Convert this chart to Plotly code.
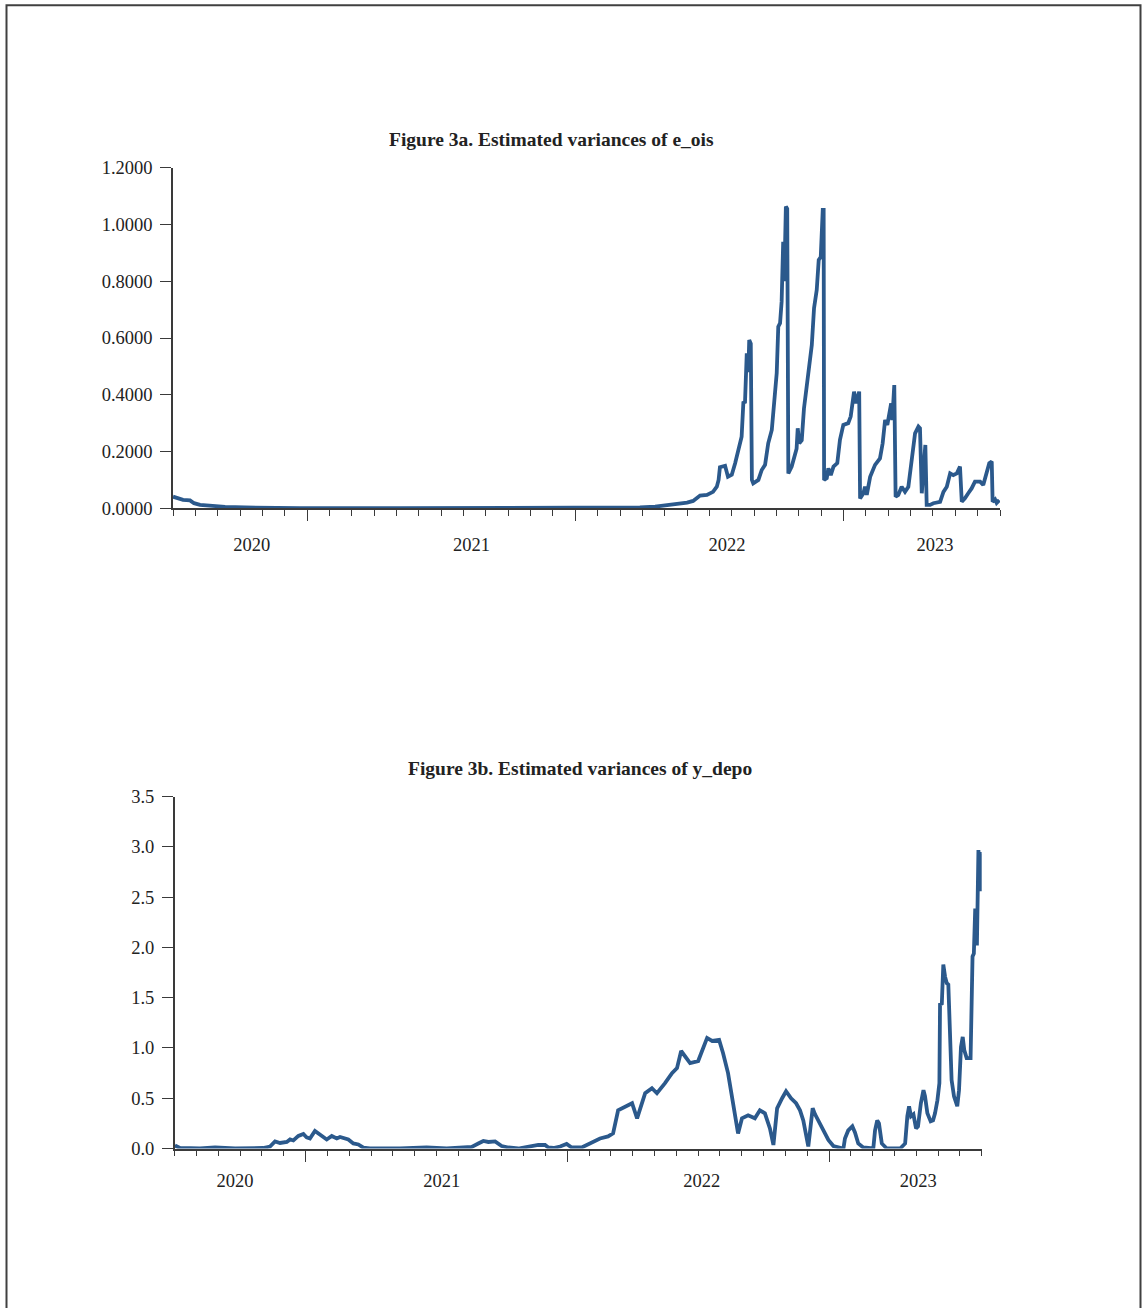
import plotly.graph_objects as go

W, H = 1142, 1308

# ---------------- data ----------------
# x = months since start of sample (axis spans 37 months, minor tick each month)
e_ois_month = [0, 0.22, 0.45, 0.76, 0.94, 1.21, 1.66, 2.33, 3.22, 4.34, 5.68, 10.16, 14.63, 17.31,
               19.10, 20.89, 21.57, 22.11, 22.69, 23.0, 23.27, 23.58, 23.89, 24.16, 24.33, 24.41,
               24.47, 24.70, 24.83, 25.0, 25.15, 25.30, 25.44, 25.52, 25.59, 25.67, 25.74, 25.78,
               25.85, 25.90, 25.96, 26.19, 26.34, 26.49, 26.63, 26.79, 26.86, 27.01, 27.08, 27.16,
               27.23, 27.30, 27.35, 27.42, 27.48, 27.53, 27.68, 27.78, 27.90, 27.95, 28.02, 28.13,
               28.23, 28.35, 28.47, 28.58, 28.68, 28.80, 28.89, 28.98, 29.07, 29.11, 29.13, 29.25,
               29.32, 29.43, 29.55, 29.72, 29.84, 29.99, 30.21, 30.32, 30.47, 30.56, 30.70, 30.74,
               30.89, 30.96, 31.04, 31.19, 31.41, 31.63, 31.75, 31.86, 31.96, 32.05, 32.13, 32.18,
               32.27, 32.33, 32.45, 32.60, 32.75, 32.90, 33.05, 33.20, 33.35, 33.42, 33.50, 33.60,
               33.66, 33.72, 33.87, 34.02, 34.32, 34.47, 34.62, 34.77, 34.91, 35.07, 35.21, 35.29,
               35.43, 35.58, 35.73, 35.88, 36.11, 36.25, 36.41, 36.52, 36.63, 36.67, 36.78, 36.85,
               36.97]
e_ois_var = [0.041, 0.035, 0.030, 0.028, 0.018, 0.012, 0.008, 0.005, 0.003, 0.001, 0.0005, 0.0005,
             0.001, 0.002, 0.001, 0.003, 0.006, 0.012, 0.016, 0.020, 0.026, 0.045, 0.047, 0.058,
             0.076, 0.100, 0.145, 0.150, 0.111, 0.118, 0.159, 0.205, 0.252, 0.376, 0.370, 0.546,
             0.480, 0.593, 0.580, 0.100, 0.088, 0.100, 0.135, 0.153, 0.229, 0.276, 0.346, 0.476,
             0.640, 0.652, 0.728, 0.939, 0.800, 1.063, 1.055, 0.123, 0.147, 0.182, 0.210, 0.282,
             0.229, 0.240, 0.352, 0.428, 0.493, 0.575, 0.705, 0.769, 0.875, 0.885, 1.051, 1.051,
             0.100, 0.106, 0.141, 0.117, 0.147, 0.159, 0.241, 0.294, 0.300, 0.323, 0.411, 0.370,
             0.411, 0.035, 0.053, 0.076, 0.047, 0.111, 0.153, 0.176, 0.229, 0.311, 0.294, 0.335,
             0.370, 0.311, 0.434, 0.041, 0.047, 0.076, 0.058, 0.076, 0.170, 0.264, 0.288, 0.282,
             0.053, 0.194, 0.223, 0.012, 0.012, 0.018, 0.023, 0.058, 0.076, 0.123, 0.117, 0.123,
             0.147, 0.023, 0.035, 0.053, 0.070, 0.094, 0.094, 0.082, 0.123, 0.159, 0.165, 0.023,
             0.031, 0.019, 0.029]

y_depo_month = [0.01, 0.24, 1.16, 1.85, 2.77, 3.45, 4.05, 4.37, 4.60, 4.83, 5.14, 5.29, 5.44, 5.67,
                5.90, 6.05, 6.20, 6.43, 6.66, 6.97, 7.20, 7.43, 7.58, 7.81, 7.96, 8.19, 8.42, 8.65,
                8.95, 10.33, 11.55, 12.47, 13.23, 13.62, 13.92, 14.15, 14.38, 14.69, 14.99, 15.30,
                15.75, 16.37, 16.67, 16.98, 17.13, 17.36, 17.67, 17.97, 18.20, 18.66, 19.04, 19.50,
                19.87, 20.10, 20.33, 20.65, 20.97, 21.20, 21.57, 21.88, 22.11, 22.48, 22.80, 23.03,
                23.22, 23.63, 24.00, 24.41, 24.64, 24.96, 25.14, 25.37, 25.60, 25.83, 26.01, 26.29,
                26.60, 26.83, 27.06, 27.29, 27.45, 27.62, 27.85, 28.03, 28.26, 28.49, 28.67, 28.82,
                29.05, 29.25, 29.36, 29.51, 29.74, 29.97, 30.20, 30.66, 30.73, 30.88, 31.07, 31.19,
                31.34, 31.57, 32.03, 32.11, 32.21, 32.29, 32.42, 32.65, 33.26, 33.49, 33.59, 33.67,
                33.76, 33.87, 33.99, 34.08, 34.21, 34.33, 34.40, 34.51, 34.66, 34.77, 34.86, 34.97,
                35.06, 35.09, 35.17, 35.24, 35.32, 35.40, 35.47, 35.55, 35.62, 35.73, 35.88, 35.96,
                36.05, 36.13, 36.20, 36.31, 36.49, 36.58, 36.64, 36.70, 36.74, 36.78, 36.80, 36.85,
                36.90, 36.92, 36.95, 36.98]
y_depo_var = [0.03, 0.005, 0.0, 0.01, 0.0, 0.005, 0.005, 0.02, 0.07, 0.055, 0.065, 0.09, 0.08, 0.125,
              0.145, 0.11, 0.10, 0.175, 0.135, 0.09, 0.125, 0.10, 0.115, 0.10, 0.09, 0.05, 0.04, 0.008,
              0.0, 0.0, 0.012, 0.0, 0.005, 0.015, 0.05, 0.075, 0.065, 0.07, 0.025, 0.01,
              0.0, 0.02, 0.035, 0.035, 0.01, 0.005, 0.02, 0.045, 0.01, 0.01, 0.05, 0.10,
              0.12, 0.15, 0.38, 0.42, 0.45, 0.30, 0.55, 0.60, 0.55, 0.65, 0.75, 0.80,
              0.97, 0.85, 0.87, 1.10, 1.07, 1.08, 0.95, 0.75, 0.45, 0.15, 0.30, 0.33,
              0.30, 0.38, 0.35, 0.20, 0.035, 0.40, 0.50, 0.57, 0.50, 0.45, 0.38, 0.28,
              0.02, 0.40, 0.34, 0.28, 0.17, 0.085, 0.025, 0.0, 0.10, 0.18, 0.22, 0.16,
              0.05, 0.01, 0.0, 0.18, 0.28, 0.25, 0.05, 0.0, 0.0, 0.05, 0.32, 0.42,
              0.32, 0.34, 0.20, 0.22, 0.45, 0.58, 0.52, 0.35, 0.27, 0.28, 0.35, 0.48,
              0.65, 1.445, 1.43, 1.83, 1.71, 1.645, 1.63, 1.18, 0.68, 0.52, 0.42, 0.58,
              1.01, 1.11, 0.98, 0.90, 0.90, 1.91, 1.94, 2.37, 2.37, 2.02, 2.40, 2.97,
              2.70, 2.95, 2.56, 2.93]

year_labels = ["2020", "2021", "2022", "2023"]
year_pos_top = [3.52, 13.36, 24.79, 34.09]
year_pos_bottom = [2.76, 12.24, 24.16, 34.09]
long_ticks = [6, 18, 30]
n_months = 37

titles = ["Figure 3a. Estimated variances of e_ois",
          "Figure 3b. Estimated variances of y_depo"]

# ---------------- styling ----------------
LINE = "#2B598C"
AX = "#3a3a3a"
TXT = "#222222"
FONT = "Liberation Serif"

def px_x(p):
    return p / W

def px_y(p):
    return 1 - p / H

fig = go.Figure()
fig.add_trace(go.Scatter(x=e_ois_month, y=e_ois_var, mode="lines",
                         line=dict(color=LINE, width=3.8), xaxis="x", yaxis="y",
                         showlegend=False, hoverinfo="skip"))
fig.add_trace(go.Scatter(x=y_depo_month, y=y_depo_var, mode="lines",
                         line=dict(color=LINE, width=3.8), xaxis="x2", yaxis="y2",
                         showlegend=False, hoverinfo="skip"))

tickfont = dict(family=FONT, size=18.5, color=TXT)

def xaxis_main(domain, anchor, labpos, standoff):
    return dict(domain=domain, anchor=anchor, range=[0, n_months],
                tickmode="array", tickvals=labpos, ticktext=year_labels,
                ticks="", showline=True, linecolor=AX, linewidth=1.5,
                showgrid=False, zeroline=False, tickfont=tickfont,
                ticklabelstandoff=standoff,
                minor=dict(tick0=0, dtick=1, ticks="outside", ticklen=6,
                           tickwidth=1.3, tickcolor=AX, showgrid=False),
                fixedrange=True)

def xaxis_long(overlay, anchor):
    return dict(overlaying=overlay, anchor=anchor, range=[0, n_months],
                tickmode="array", tickvals=long_ticks, ticks="outside", ticklen=12,
                tickwidth=1.3, tickcolor=AX, showticklabels=False, showline=False,
                showgrid=False, zeroline=False, fixedrange=True)

def yaxis(domain, anchor, rng, dtick, fmt):
    return dict(domain=domain, anchor=anchor, range=rng, tickmode="linear", tick0=0,
                dtick=dtick, tickformat=fmt, ticks="outside", ticklen=11, tickwidth=1.3,
                tickcolor=AX, showline=True, linecolor=AX, linewidth=1.5,
                showgrid=False, zeroline=False, tickfont=tickfont,
                ticklabelstandoff=4, fixedrange=True)

top_x = [px_x(173), px_x(1000)]
top_y = [px_y(508.3), px_y(167.7)]
bot_x = [px_x(174.7), px_x(981.7)]
bot_y = [px_y(1148.5), px_y(796.7)]

fig.update_layout(
    width=W, height=H,
    margin=dict(l=0, r=0, t=0, b=0, autoexpand=False),
    paper_bgcolor="white", plot_bgcolor="white",
    xaxis=xaxis_main(top_x, "y", year_pos_top, 19),
    yaxis=yaxis(top_y, "x", [0, 1.2], 0.2, ".4f"),
    xaxis2=xaxis_main(bot_x, "y2", year_pos_bottom, 15),
    yaxis2=yaxis(bot_y, "x2", [0, 3.5], 0.5, ".1f"),
    xaxis3=xaxis_long("x", "y"),
    xaxis4=xaxis_long("x2", "y2"),
    annotations=[
        dict(text="<b>%s</b>" % titles[0], x=px_x(551), y=px_y(139), xref="paper",
             yref="paper", showarrow=False, xanchor="center", yanchor="middle",
             font=dict(family=FONT, size=19.5, color=TXT)),
        dict(text="<b>%s</b>" % titles[1], x=px_x(580), y=px_y(768), xref="paper",
             yref="paper", showarrow=False, xanchor="center", yanchor="middle",
             font=dict(family=FONT, size=19.5, color=TXT)),
    ],
    shapes=[dict(type="rect", xref="paper", yref="paper", x0=px_x(6.5), x1=px_x(1140.5),
                 y0=-0.05, y1=px_y(5.2), line=dict(color="#404040", width=2),
                 fillcolor="rgba(0,0,0,0)", layer="above")],
)

# dummy traces so the overlay axes render
fig.add_trace(go.Scatter(x=[None], y=[None], xaxis="x3", yaxis="y", showlegend=False))
fig.add_trace(go.Scatter(x=[None], y=[None], xaxis="x4", yaxis="y2", showlegend=False))

fig.write_html("out.html")
